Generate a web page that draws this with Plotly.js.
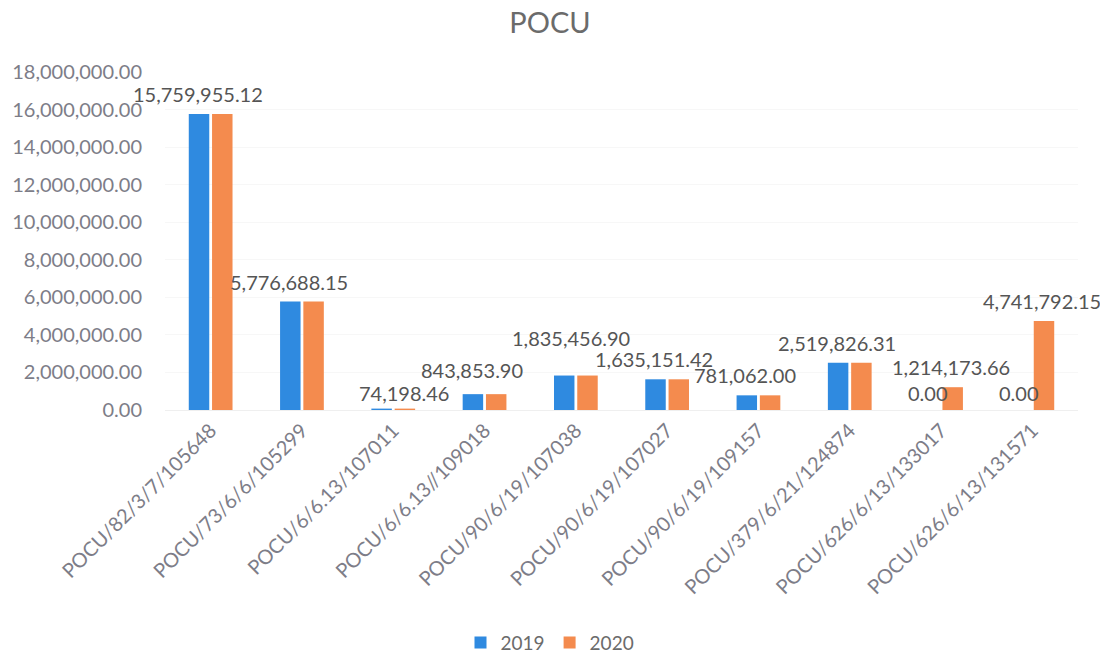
<!DOCTYPE html>
<html>
<head>
<meta charset="utf-8">
<script src="https://cdn.plot.ly/plotly-3.0.1.min.js"></script>
<style>
  html, body { margin: 0; padding: 0; background: #ffffff; }
  #chart { width: 1100px; height: 657px; }
</style>
</head>
<body>
<div id="chart"></div>
<script>
const categories = [
  "POCU/82/3/7/105648",
  "POCU/73/6/6/105299",
  "POCU/6/6.13/107011",
  "POCU/6/6.13//109018",
  "POCU/90/6/19/107038",
  "POCU/90/6/19/107027",
  "POCU/90/6/19/109157",
  "POCU/379/6/21/124874",
  "POCU/626/6/13/133017",
  "POCU/626/6/13/131571"
];
const values2019 = [15759955.12, 5776688.15, 74198.46, 843853.90, 1835456.90, 1635151.42, 781062.00, 2519826.31, 0.00, 0.00];
const values2020 = [15759955.12, 5776688.15, 74198.46, 843853.90, 1835456.90, 1635151.42, 781062.00, 2519826.31, 1214173.66, 4741792.15];
const seriesNames = ["2019", "2020"];

const blue = "#2f8ae0";
const orange = "#f48b4e";
const fmt = v => v.toLocaleString("en-US", {minimumFractionDigits: 2, maximumFractionDigits: 2});

const traces = [
  { type: "bar", name: seriesNames[0], x: categories, y: values2019, marker: { color: blue }, hoverinfo: "none" },
  { type: "bar", name: seriesNames[1], x: categories, y: values2020, marker: { color: orange }, hoverinfo: "none" }
];

const FONT = "Lato, 'Open Sans', sans-serif";
const labelFont = { family: FONT, size: 20, color: "#555555" };
// manual nudges of some labels (like the moved labels in the original)
const nudge = { 2: { dx: 24, dy: -4 }, 3: { dx: 0, dy: 4 }, 4: { dx: 8, dy: 18 }, 8: { dx: 0, dy: -3 }, 9: { dx: 0, dy: -3 } };
const annotations = [];
categories.forEach((c, i) => {
  const n = nudge[i] || { dx: 0, dy: 0 };
  annotations.push({
    x: c, y: values2019[i], xref: "x", yref: "y",
    text: fmt(values2019[i]), showarrow: false,
    xshift: -13 + n.dx, yshift: 20 + n.dy, yanchor: "middle", xanchor: "center",
    font: labelFont
  });
  if (values2020[i] !== values2019[i]) {
    annotations.push({
      x: c, y: values2020[i], xref: "x", yref: "y",
      text: fmt(values2020[i]), showarrow: false,
      xshift: 10, yshift: 20, yanchor: "middle", xanchor: "center",
      font: labelFont
    });
  }
});

const layout = {
  width: 1100, height: 657,
  paper_bgcolor: "#ffffff", plot_bgcolor: "#ffffff",
  margin: { l: 165, r: 22, t: 72, b: 247 },
  title: {
    text: "POCU",
    font: { family: FONT, size: 29, color: "#6b6b6b" },
    xref: "container", x: 0.5, xanchor: "center",
    yref: "container", y: 0.965, yanchor: "middle"
  },
  barmode: "group",
  bargap: 0.49,
  bargroupgap: 0.12,
  xaxis: {
    type: "category",
    automargin: false,
    range: [-0.5, categories.length - 0.5],
    tickangle: -45,
    tickfont: { family: FONT, size: 20, color: "#7d7d88" },
    showline: true, linecolor: "#efefef", linewidth: 1,
    ticks: "", showgrid: false, zeroline: false
  },
  yaxis: {
    automargin: false,
    range: [0, 18000000],
    dtick: 2000000,
    tickformat: ",.2f",
    tickfont: { family: FONT, size: 20, color: "#7d7d88" },
    showgrid: true, gridcolor: "#f7f7f7", gridwidth: 1,
    zeroline: false, showline: false, ticks: "",
    ticklabelstandoff: 22
  },
  showlegend: true,
  legend: {
    orientation: "h",
    xref: "container", x: 0.5, xanchor: "center",
    yref: "container", y: 0.022, yanchor: "middle",
    font: { family: FONT, size: 19, color: "#6b6b6b" },
    itemwidth: 30
  },
  annotations: annotations
};

Plotly.newPlot("chart", traces, layout, { displayModeBar: false, staticPlot: true });
</script>
</body>
</html>
